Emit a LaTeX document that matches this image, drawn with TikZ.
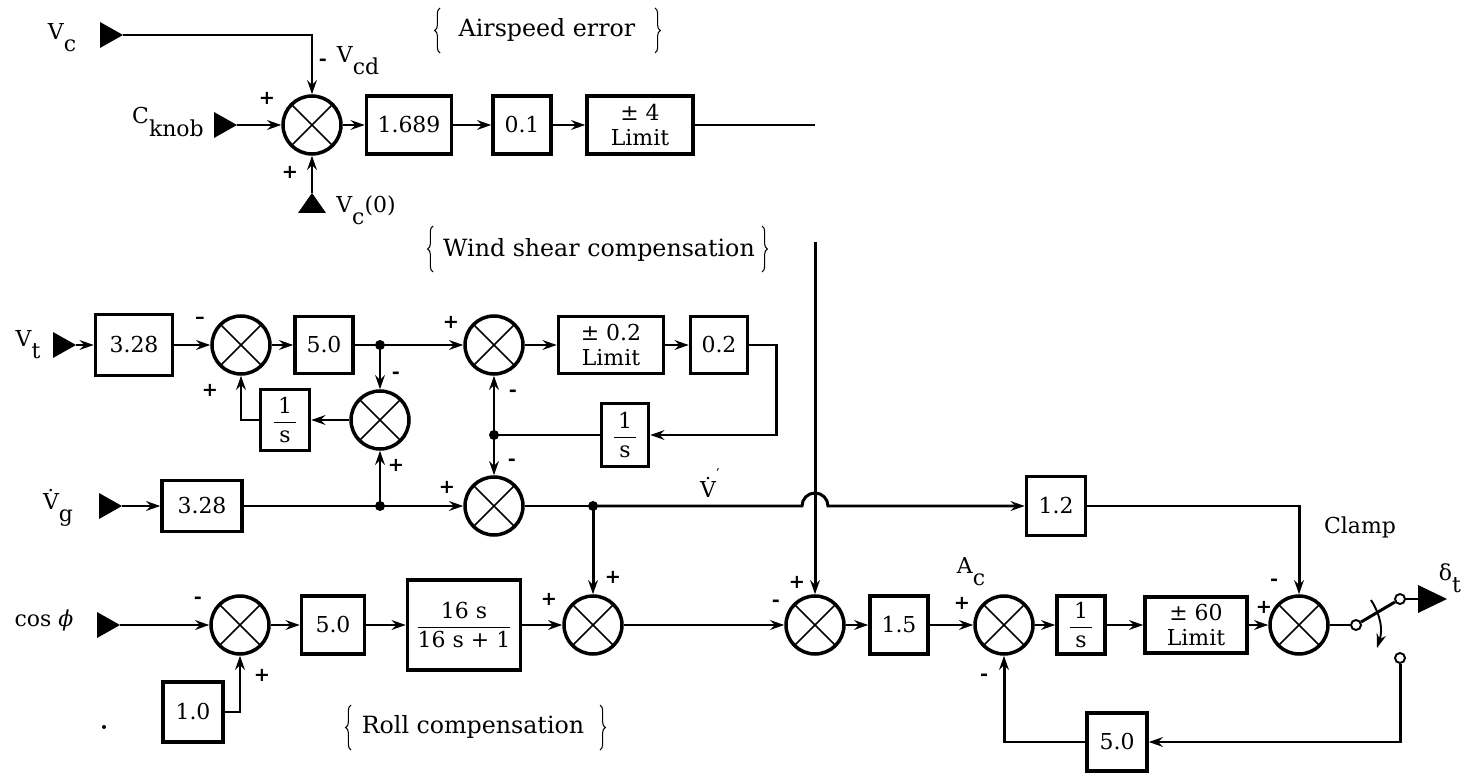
\documentclass[tikz,border=0pt]{standalone}
\usepackage{amsmath}
\usepackage{fontspec}
\setmainfont{DejaVu Serif}
\usepackage{tikz}
\usetikzlibrary{arrows,calc,arrows.meta,decorations.pathreplacing}

\newcommand{\sub}[1]{\raisebox{-.55em}{#1}}
\newcommand{\frc}[2]{$\dfrac{\text{\,#1\,}}{\text{\,#2\,}}$}

\tikzset{
  blk/.style={draw,line width=2pt,inner sep=0pt,align=center,
    minimum width=1.16cm,minimum height=1.16cm},
  sumj/.style={circle,draw,line width=2pt,inner sep=0pt,minimum size=1.16cm,
    path picture={\draw[line width=.9pt]
      (path picture bounding box.north west) -- (path picture bounding box.south east)
      (path picture bounding box.north east) -- (path picture bounding box.south west);}},
  jn/.style={circle,fill,inner sep=0pt,minimum size=.2cm},
  contact/.style={circle,draw,fill=white,line width=1.1pt,inner sep=0pt,minimum size=.2cm},
  sgn/.style={font=\fontsize{11}{12}\selectfont\bfseries},
  brc/.style={line width=.6pt,decorate,decoration={brace,amplitude=3pt}},
  capt/.style={font=\fontsize{13.5}{15}\selectfont},
}

\begin{document}
\begin{tikzpicture}[x=0.02cm,y=-0.02cm,line width=1.7pt,font=\fontsize{12.5}{14}\selectfont]
            \useasboundingbox (0,0) rectangle (1474,773);

            % airspeed error
            \coordinate (Vc) at (123,35);
            \coordinate (Ck) at (237,125);
            \coordinate (Vc0) at (312,193);
            \coordinate (Ae) at (815,125);
            \node[sumj] (s1) at (312,125) {};
            \node[blk,minimum width=1.7cm] (k1689) at (409,125) {1.689};
            \node[blk] (k01) at (522,125) {0.1};
            \node[blk,minimum width=2.12cm] (lim4) at (640,125) {± 4\\Limit};
            \fill (Vc) -- ++(-23,-13) -- ++(0,26) -- cycle;
            \fill (Ck) -- ++(-23,-13) -- ++(0,26) -- cycle;
            \fill (Vc0) -- ++(-14,20) -- ++(28,0) -- cycle;
            \begin{scope}[->,>={Stealth[length=8pt,width=5.5pt]}]
                \draw (Vc) -| (s1);
                \draw (Ck) -- (s1);
                \draw (Vc0) -- (s1);
                \draw (s1) -- (k1689);
                \draw (k1689) -- (k01);
                \draw (k01) -- (lim4);
            \end{scope}
            \draw (lim4) -- (Ae);
            \node at (62,38) {V\sub{c}};
            \node at (168,122) {C\sub{knob}};
            \node at (358,61) {V\sub{cd}};
            \node at (366,210) {V\sub{c}(0)};
            \node[sgn] at (267,98) {+};
            \node[sgn] at (290,172) {+};
            \node[sgn] at (323,62) {-};
            \draw[brc] (440,53) -- (440,8);
            \draw[brc] (655,8) -- (655,53);
            \node[capt] at (547,30) {Airspeed error};

            % wind shear compensation
            \coordinate (Vt) at (76,345);
            \coordinate (Lw) at (776,345);
            \node[blk,minimum width=1.54cm,minimum height=1.22cm] (k328a) at (134,345) {3.28};
            \node[sumj] (s2) at (241,345) {};
            \node[blk,minimum height=1.14cm] (k50a) at (324,345) {5.0};
            \node[jn] (jt) at (380,345) {};
            \node[sumj] (s3) at (494,345) {};
            \node[blk,minimum width=2.1cm,minimum height=1.14cm] (lim02) at (611,345) {± 0.2\\Limit};
            \node[blk,minimum width=1.14cm,minimum height=1.14cm] (k02) at (719,345) {0.2};
            \node[sumj] (s2b) at (380,420) {};
            \node[blk,minimum width=.98cm,minimum height=1.22cm] (inta) at (285,420) {\frc{1}{s}};
            \node[blk,minimum width=.94cm,minimum height=1.26cm] (intb) at (625,435) {\frc{1}{s}};
            \node[jn] (jw) at (494,435) {};
            \fill (Vt) -- ++(-23,-13) -- ++(0,26) -- cycle;
            \begin{scope}[->,>={Stealth[length=8pt,width=5.5pt]}]
                \draw (Vt) -- (k328a);
                \draw (k328a) -- (s2);
                \draw (s2) -- (k50a);
                \draw (k50a) -- (jt.center) -- (s3);
                \draw (jt.center) -- (s2b);
                \draw (s2b) -- (inta);
                \draw (inta) -| (s2);
                \draw (s3) -- (lim02);
                \draw (lim02) -- (k02);
                \draw (k02) -- (Lw) |- (intb);
                \draw (jw.center) -- (s3);
            \end{scope}
            \draw (intb) -- (jw.center);
            \node at (28,345) {V\sub{t}};
            \node[sgn] at (200,320) {--};
            \node[sgn] at (210,390) {+};
            \node[sgn] at (396,375) {-};
            \node[sgn] at (396,465) {+};
            \node[sgn] at (451,322) {+};
            \node[sgn] at (513,393) {-};
            \node[sgn] at (512,462) {-};
            \draw[brc] (433,272) -- (433,226);
            \draw[brc] (762,226) -- (762,272);
            \node[capt] at (599,250) {Wind shear compensation};

            % ground speed rate
            \coordinate (Vg) at (122,506);
            \coordinate (hop) at (802,506);
            \node[blk,minimum width=1.6cm,minimum height=1.02cm] (k328b) at (202,506) {3.28};
            \node[jn] (jg) at (380,506) {};
            \node[sumj] (s4) at (494,506) {};
            \node[jn] (jv) at (593,506) {};
            \node[blk,minimum width=1.18cm,minimum height=1.18cm] (k12) at (1056,506) {1.2};
            \fill (Vg) -- ++(-23,-13) -- ++(0,26) -- cycle;
            \node at (58,508) {\.{V}\sub{g}};
            \node at (710,483) {\.{V}\raisebox{.9em}{\fontsize{7}{8}\selectfont '}};
            \node[sgn] at (447,487) {+};

            % roll compensation
            \coordinate (Cp) at (120,625);
            \node[sumj] (s5) at (240,625) {};
            \node[blk,minimum width=1.26cm] (k50b) at (333,625) {5.0};
            \node[blk,minimum width=2.26cm,minimum height=1.8cm] (kroll) at (464,625) {$\dfrac{\text{16 s}}{\text{16 s + 1}}$};
            \node[sumj] (s6) at (593,625) {};
            \node[blk,minimum width=1.2cm,minimum height=1.2cm] (k10) at (193,712) {1.0};
            \fill (Cp) -- ++(-23,-13) -- ++(0,26) -- cycle;
            \fill (104,727) circle (.04cm);
            \node at (44,620) {cos \textit{ϕ}};
            \node[sgn] at (198,600) {-};
            \node[sgn] at (262,675) {+};
            \node[sgn] at (549,599) {+};
            \node[sgn] at (613,577) {+};
            \draw[brc] (351,750) -- (351,705);
            \draw[brc] (600,705) -- (600,750);
            \node[capt] at (473,727) {Roll compensation};

            % throttle loop
            \coordinate (Wt) at (815,242);
            \coordinate (dt) at (1418,599);
            \node[sumj] (s7) at (815,625) {};
            \node[blk] (k15) at (899,625) {1.5};
            \node[sumj] (s8) at (1004,625) {};
            \node[blk,minimum width=.96cm] (intc) at (1081,625) {\frc{1}{s}};
            \node[blk,minimum width=2.04cm,minimum height=1.12cm] (lim60) at (1196,625) {± 60\\Limit};
            \node[sumj] (s9) at (1299,625) {};
            \node[contact] (sw1) at (1356,625) {};
            \node[contact] (sw2) at (1400,599) {};
            \node[contact] (sw3) at (1400,658) {};
            \node[blk,minimum width=1.2cm] (k50c) at (1117,742) {5.0};
            \begin{scope}[->,>={Stealth[length=8pt,width=5.5pt]}]
                \draw (jw.center) -- (s4);
                \draw (Vg) -- (k328b);
                \draw (k328b) -- (jg.center) -- (s4);
                \draw (jg.center) -- (s2b);
                \draw (jv.center) -- (hop) arc[start angle=180,end angle=0,radius=.26cm] -- (k12);
                \draw (jv.center) -- (s6);
                \draw (k12) -| (s9);
                \draw (Cp) -- (s5);
                \draw (s5) -- (k50b);
                \draw (k50b) -- (kroll);
                \draw (kroll) -- (s6);
                \draw (k10) -| (s5);
                \draw (Wt) -- (s7);
                \draw (s6) -- (s7);
                \draw (s7) -- (k15);
                \draw (k15) -- (s8);
                \draw (s8) -- (intc);
                \draw (intc) -- (lim60);
                \draw (lim60) -- (s9);
                \draw (sw3) |- (k50c);
                \draw (k50c) -| (s8);
                \draw[line width=1.1pt] (1371,600) to[bend left=25] (1377,648);
            \end{scope}
            \draw (s4) -- (jv.center);
            \draw (s9) -- (sw1);
            \draw (sw1) -- (sw2);
            \draw (sw2) -- (dt);
            \fill (dt) -- ++(0,-14) -- ++(29,14) -- ++(-29,14) -- cycle;
            \node at (971,572) {A\sub{c}};
            \node at (1360,527) {Clamp};
            \node at (1450,578) {δ\sub{t}};
            \node[sgn] at (776,603) {-};
            \node[sgn] at (797,582) {+};
            \node[sgn] at (962,603) {+};
            \node[sgn] at (984,677) {-};
            \node[sgn] at (1264,607) {+};
            \node[sgn] at (1274,582) {-};
        \end{tikzpicture}
\end{document}
